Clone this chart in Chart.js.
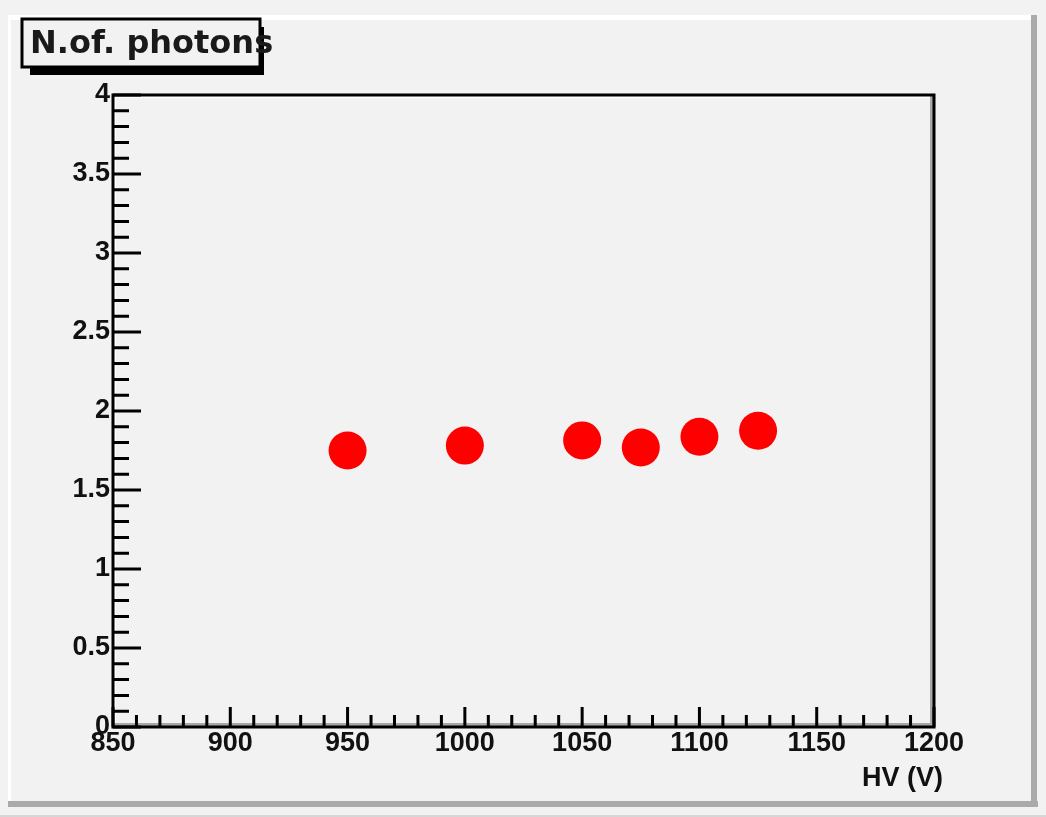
<!DOCTYPE html>
<html>
<head>
<meta charset="utf-8">
<script src="https://cdn.jsdelivr.net/npm/chart.js@4"></script>
<style>
  body { margin: 0; background: #f2f2f2; }
  #caja { width: 1046px; height: 817px; }
</style>
</head>
<body>
<div id="caja"><canvas id="grafica" width="1046" height="817"></canvas></div>
<script>
// Datos
var voltajes = [950, 1000, 1050, 1075, 1100, 1125];   // HV (V)
var fotones  = [1.750, 1.781, 1.814, 1.769, 1.837, 1.875];
var titulo = 'N.of. photons';
var tituloX = 'HV (V)';

var puntos = voltajes.map(function(v, i) { return { x: v, y: fotones[i] }; });

function esMayor(v, paso) {
    var r = v / paso;
    return Math.abs(r - Math.round(r)) < 1e-6;
}

// fondo, marco del canvas, marco de la grafica, ticks hacia dentro y caja del titulo
var marco = {
    id: 'marco',
    beforeDraw: function(chart) {
        var c = chart.ctx;
        c.save();
        c.fillStyle = '#f2f2f2';
        c.fillRect(0, 0, chart.width, chart.height);
        c.fillStyle = '#ffffff';
        c.fillRect(8, 15, 1028, 5);
        c.fillRect(8, 15, 3, 790);
        c.fillStyle = '#aaaaaa';
        c.fillRect(8, 801, 1030, 6);
        c.fillRect(1031, 15, 6, 792);
        c.fillStyle = '#d6d6d6';
        c.fillRect(0, 815, chart.width, 2);
        c.restore();
    },
    afterDraw: function(chart) {
        var c = chart.ctx;
        var a = chart.chartArea;
        var sx = chart.scales.x, sy = chart.scales.y;
        c.save();
        // bordes interiores
        c.fillStyle = '#ffffff';
        c.fillRect(a.left + 1, a.top + 1, a.right - a.left - 2, 2);
        c.fillRect(a.left + 1, a.top + 1, 2, a.bottom - a.top - 2);
        c.fillStyle = '#a8a8a8';
        c.fillRect(a.left + 1, a.bottom - 4, a.right - a.left - 2, 3);
        c.fillRect(a.right - 4, a.top + 1, 3, a.bottom - a.top - 2);
        c.strokeStyle = '#000';
        c.lineWidth = 3;
        c.strokeRect(a.left, a.top, a.right - a.left, a.bottom - a.top);

        // ticks
        c.beginPath();
        sx.ticks.forEach(function(t) {
            var px = sx.getPixelForValue(t.value);
            var l = esMayor(t.value, 50) ? 20 : 12;
            c.moveTo(px, a.bottom);
            c.lineTo(px, a.bottom - l);
        });
        sy.ticks.forEach(function(t) {
            var py = sy.getPixelForValue(t.value);
            var l = esMayor(t.value, 0.5) ? 28 : 16;
            c.moveTo(a.left, py);
            c.lineTo(a.left + l, py);
        });
        c.stroke();

        // titulo del eje x
        c.fillStyle = '#111';
        c.font = 'bold 27px "Liberation Sans", Arial, sans-serif';
        c.textAlign = 'right';
        c.textBaseline = 'alphabetic';
        c.fillText(tituloX, 943, 786);

        // caja del titulo con sombra
        c.fillStyle = '#000';
        c.fillRect(30, 67, 234, 8);
        c.fillRect(259, 27, 5, 48);
        c.fillStyle = '#f2f2f2';
        c.fillRect(22, 19, 238, 48);
        c.lineWidth = 3;
        c.strokeRect(22, 19, 238, 48);
        c.fillStyle = '#1a1a1a';
        c.font = 'bold 32px "DejaVu Sans", sans-serif';
        c.textAlign = 'left';
        c.fillText(titulo, 30, 53);
        c.restore();
    }
};

var ctx = document.getElementById('grafica').getContext('2d');
var grafica = new Chart(ctx, {
    type: 'scatter',
    data: {
        datasets: [{
            label: titulo,
            data: puntos,
            backgroundColor: '#ff0000',
            borderWidth: 0,
            pointRadius: 19,
            pointHoverRadius: 19
        }]
    },
    options: {
        responsive: false,
        animation: false,
        layout: { padding: { left: 0, top: 95, right: 112, bottom: 0 } },
        plugins: {
            legend: { display: false },
            tooltip: { enabled: false }
        },
        scales: {
            x: {
                type: 'linear',
                min: 850,
                max: 1200,
                afterFit: function(s) { s.height = 90; },
                border: { display: false },
                grid: { display: false, drawTicks: false },
                ticks: {
                    stepSize: 10,
                    autoSkip: false,
                    maxRotation: 0,
                    padding: 0,
                    color: '#111',
                    font: { family: '"Liberation Sans", Arial, sans-serif', size: 27, weight: 'bold' },
                    callback: function(v) { return esMayor(v, 50) ? String(Math.round(v)) : ''; }
                }
            },
            y: {
                min: 0,
                max: 4,
                afterFit: function(s) { s.width = 113; },
                border: { display: false },
                grid: { display: false, drawTicks: false },
                ticks: {
                    stepSize: 0.1,
                    autoSkip: false,
                    padding: 3,
                    color: '#111',
                    font: { family: '"Liberation Sans", Arial, sans-serif', size: 27, weight: 'bold' },
                    callback: function(v) { return esMayor(v, 0.5) ? String(Math.round(v * 10) / 10) : ''; }
                }
            }
        }
    },
    plugins: [marco]
});
</script>
</body>
</html>
